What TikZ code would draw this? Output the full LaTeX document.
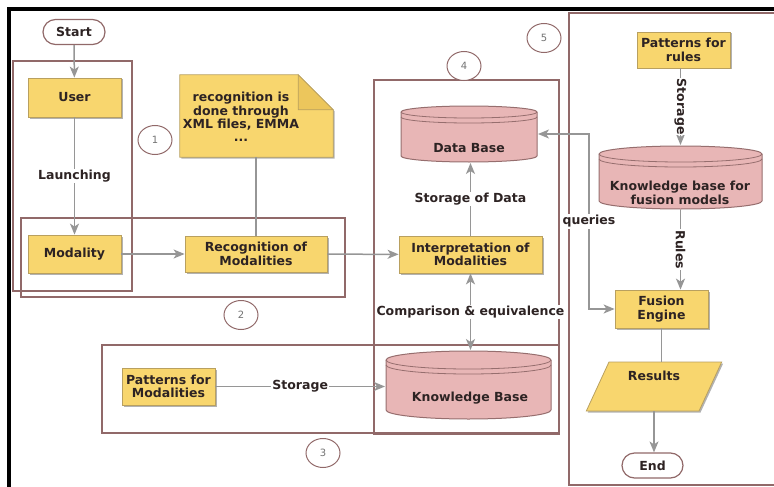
\documentclass[tikz,border=0pt]{standalone}
\usepackage{fontspec}
\setmainfont{DejaVu Sans}
\usetikzlibrary{positioning,calc,shapes.geometric,shadows,arrows.meta}
\definecolor{boxfill}{RGB}{248,214,110}
\definecolor{boxdraw}{RGB}{185,160,95}
\definecolor{foldfill}{RGB}{236,198,92}
\definecolor{cylfill}{RGB}{232,182,182}
\definecolor{cyldraw}{RGB}{150,110,110}
\definecolor{panelline}{RGB}{145,105,105}
\definecolor{arrowgray}{RGB}{150,150,150}
\definecolor{inkdark}{RGB}{45,35,35}
\newcommand{\boldtxt}{\fontsize{12.5}{13.4}\selectfont\bfseries}
\newcommand{\cylpath}[1]{%
\path[fill=cylfill,draw=cyldraw,line width=1pt]
  let \p1=(path picture bounding box.south west),\p2=(path picture bounding box.north east),
  \n1={(\x2-\x1)/2-1pt},\n2={#1} in
  (\x1+1pt,\y2-\n2-1pt) -- (\x1+1pt,\y1+\n2+1pt)
  arc[start angle=180,end angle=360,x radius=\n1,y radius=\n2]
  -- (\x2-1pt,\y2-\n2-1pt)
  arc[start angle=0,end angle=180,x radius=\n1,y radius=\n2] -- cycle;
\path[draw=cyldraw,line width=0.8pt]
  let \p1=(path picture bounding box.south west),\p2=(path picture bounding box.north east),
  \n1={(\x2-\x1)/2-1pt},\n2={#1} in
  (\x1+1pt,\y2-\n2-1pt) arc[start angle=180,end angle=360,x radius=\n1,y radius=\n2]
  (\x1+1pt,\y2-\n2-6pt) arc[start angle=180,end angle=360,x radius=\n1,y radius=\n2];
}
\tikzset{
procbox/.style={draw=boxdraw,fill=boxfill,line width=0.8pt,inner sep=0pt,align=center,font=\boldtxt,text=inkdark,
  drop shadow={shadow xshift=1.5pt,shadow yshift=-1.5pt,opacity=0.3,fill=black}},
termbox/.style={draw=panelline,fill=white,line width=1.2pt,rounded corners=12.5pt,minimum height=25pt,inner sep=0pt,font=\boldtxt,text=inkdark},
dbbox/.style={inner sep=0pt,outer sep=0pt,path picture={\cylpath{#1}}},
notebox/.style={minimum width=153pt,minimum height=82pt,inner sep=0pt},
notepaper/.style={fill=boxfill,draw=boxdraw,line width=0.8pt,
  drop shadow={shadow xshift=1.5pt,shadow yshift=-1.5pt,opacity=0.3,fill=black}},
notefold/.style={fill=foldfill,draw=boxdraw,line width=0.8pt},
panel/.style={draw=panelline,line width=1.2pt},
tag/.style={ellipse,draw=panelline,line width=1pt,fill=white,minimum width=34pt,minimum height=29pt,inner sep=0pt,
  font=\fontsize{10}{12}\selectfont,text=black!55},
lbl/.style={fill=white,inner sep=1pt,font=\boldtxt,text=inkdark},
flowarrow/.style={-{Stealth[length=11pt,width=9pt,inset=3pt]},draw=arrowgray,line width=1.5pt},
twoway/.style={{Stealth[length=11pt,width=9pt,inset=3pt]}-{Stealth[length=11pt,width=9pt,inset=3pt]},draw=arrowgray,line width=1.5pt},
plainline/.style={draw=arrowgray,line width=1.5pt}
}
\begin{document}
\begin{tikzpicture}[x=1pt,y=-1pt]
\clip (0,0) rectangle (774,487);
\draw[line width=4pt,black] (9,9) rectangle (790,500);
% panels
\draw[panel] (13,61) rectangle (132,291);
\draw[panel] (21,218) rectangle (345,297);
\draw[panel] (102,345) rectangle (559,433);
\draw[panel] (374,80) rectangle (559,434);
\draw[panel] (569,13) rectangle (790,485);
\node[tag] (t1) at (155,140) {1};
\node[tag] (t2) at (241,315) {2};
\node[tag] (t3) at (323,453) {3};
\node[tag] (t4) at (464,66) {4};
\node[tag] (t5) at (544,38) {5};
% left column
\node[termbox,minimum width=62pt] (start) at (74,32) {Start};
\node[procbox,minimum width=93pt,minimum height=39pt] (user) at (74.5,97.5) {User};
\node[procbox,minimum width=93pt,minimum height=38pt] (mod) at (74.5,254) {Modality};
% note
\node[notebox] (note) at (256.5,116) {};
\draw[notepaper] (note.north west) -- ([xshift=-35pt]note.north east) -- ([yshift=-35pt]note.north east)
  -- (note.south east) -- (note.south west) -- cycle;
\draw[notefold] ([xshift=-35pt]note.north east) -- ([xshift=-35pt,yshift=-35pt]note.north east)
  -- ([yshift=-35pt]note.north east) -- cycle;
\node[lbl,fill=none,align=center] (notetxt) at (241,117) {recognition is\\done through\\XML files, EMMA\\...};
\node[procbox,minimum width=142pt,minimum height=36pt] (rec) at (256,254) {Recognition of\\Modalities};
% middle
\node[procbox,minimum width=143pt,minimum height=37pt] (interp) at (470.5,254.5) {Interpretation of\\Modalities};
\node[dbbox=6pt,minimum width=138pt,minimum height=58pt] (db) at (469,134) {};
\node[lbl,fill=none] (dbtxt) at (469,148) {Data Base};
\node[dbbox=9pt,minimum width=167pt,minimum height=70pt] (kb) at (468.5,385) {};
\node[lbl,fill=none] (kbtxt) at (470,398) {Knowledge Base};
\node[procbox,minimum width=93pt,minimum height=37pt] (pmod) at (168.5,386.5) {Patterns for\\Modalities};
% right column
\node[procbox,minimum width=93pt,minimum height=36pt] (prule) at (683.5,50) {Patterns for\\rules};
\node[dbbox=8pt,minimum width=165pt,minimum height=65pt] (fkb) at (680.5,177.5) {};
\node[lbl,fill=none,align=center] (fkbtxt) at (680,193) {Knowledge base for\\fusion models};
\node[procbox,minimum width=93pt,minimum height=38pt] (fus) at (661.5,309) {Fusion\\Engine};
\node[procbox,shape=trapezium,trapezium left angle=75,trapezium right angle=105,trapezium stretches=true,
  minimum width=136pt,minimum height=49pt,text height=18.5pt,text depth=30.5pt] (res) at (654,386.5) {Results};
\node[termbox,minimum width=61pt] (end) at (652.5,465.5) {End};
% connectors
\draw[flowarrow] (start) -- (user);
\draw[flowarrow] (user) -- node[lbl]{Launching} (mod);
\draw[flowarrow] (mod) -- (rec);
\draw[flowarrow] (rec) -- (interp);
\draw[plainline] (rec.north) -- (rec.north |- note.south);
\draw[flowarrow] (interp.north) -- node[lbl]{Storage of Data} (interp.north |- db.south);
\draw[twoway] (interp.south) -- node[lbl]{Comparison \& equivalence} (interp.south |- kb.north);
\draw[flowarrow] (pmod.east) -- node[lbl]{Storage} (pmod.east -| kb.west);
\draw[flowarrow] (fkb.north |- prule.south) -- node[lbl,rotate=-90]{Storage} (fkb.north);
\draw[flowarrow] (fkb.south) -- node[lbl,rotate=-90]{Rules} (fkb.south |- fus.north);
\coordinate (qbend) at (589,309);
\draw[twoway] (db.east) -| node[lbl,pos=0.75]{queries} (qbend) -- (fus.west);
\draw[plainline] (fus.south) -- (fus.south |- res.north);
\draw[flowarrow] (res.south) -- (res.south |- end.north);
\end{tikzpicture}
\end{document}
